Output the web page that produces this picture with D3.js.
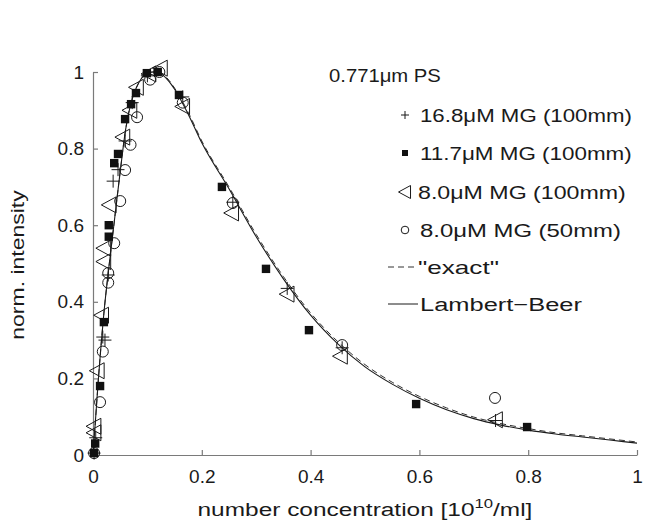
<!DOCTYPE html>
<html><head><meta charset="utf-8">
<script src="https://cdn.jsdelivr.net/npm/d3@7"></script>
<style>
body{margin:0;background:#fff;}
text{font-family:"Liberation Sans",Arial,sans-serif;fill:#1a1a1a;}
</style></head><body>
<svg id="c" width="662" height="528"></svg>
<script>
// ---- data ----
const xTicks = [0, 0.2, 0.4, 0.6, 0.8, 1];
const yTicks = [0, 0.2, 0.4, 0.6, 0.8, 1];
const xTickLabels = ["0", "0.2", "0.4", "0.6", "0.8", "1"];
const yTickLabels = ["0", "0.2", "0.4", "0.6", "0.8", "1"];

// 16.8uM MG (100mm)  "+"
const plusX = [0.002, 0.005, 0.018, 0.022, 0.028, 0.037, 0.046, 0.059, 0.072, 0.100, 0.165, 0.257, 0.357, 0.458, 0.740];
const plusY = [0.005, 0.045, 0.308, 0.300, 0.470, 0.715, 0.745, 0.820, 0.920, 0.990, 0.935, 0.660, 0.435, 0.280, 0.090];
// 11.7uM MG (100mm)  filled square
const sqX = [0.002, 0.004, 0.013, 0.020, 0.029, 0.029, 0.039, 0.046, 0.059, 0.070, 0.079, 0.099, 0.119, 0.158, 0.237, 0.318, 0.397, 0.594, 0.798];
const sqY = [0.005, 0.030, 0.180, 0.347, 0.570, 0.600, 0.762, 0.786, 0.877, 0.916, 0.945, 0.997, 1.000, 0.940, 0.700, 0.486, 0.326, 0.133, 0.073];
// 8.0uM MG (100mm)  left triangle
const triX = [0.002, 0.002, 0.008, 0.016, 0.020, 0.020, 0.030, 0.055, 0.068, 0.080, 0.103, 0.124, 0.165, 0.255, 0.357, 0.455, 0.740];
const triY = [0.075, 0.058, 0.220, 0.365, 0.505, 0.540, 0.653, 0.830, 0.900, 0.960, 0.995, 1.010, 0.910, 0.632, 0.420, 0.258, 0.092];
// 8.0uM MG (50mm)  open circle
const circX = [0.002, 0.013, 0.018, 0.028, 0.028, 0.039, 0.050, 0.059, 0.069, 0.081, 0.105, 0.122, 0.165, 0.257, 0.458, 0.739];
const circY = [0.005, 0.138, 0.270, 0.450, 0.475, 0.553, 0.663, 0.744, 0.810, 0.882, 0.980, 1.000, 0.920, 0.658, 0.287, 0.149];

// model curves
const curveX   = [0, 0.005, 0.01, 0.015, 0.02, 0.03, 0.04, 0.05, 0.06, 0.07, 0.08, 0.09, 0.10, 0.11, 0.12, 0.13, 0.14, 0.15, 0.175, 0.2, 0.25, 0.3, 0.35, 0.4, 0.45, 0.5, 0.55, 0.6, 0.65, 0.7, 0.75, 0.8, 0.85, 0.9, 0.95, 1.0];
const lambertY = [0, 0.10, 0.20, 0.29, 0.37, 0.50, 0.62, 0.74, 0.85, 0.92, 0.96, 0.985, 0.997, 1.0, 0.997, 0.99, 0.975, 0.955, 0.89, 0.815, 0.695, 0.57, 0.46, 0.365, 0.29, 0.23, 0.185, 0.148, 0.118, 0.095, 0.078, 0.065, 0.055, 0.047, 0.039, 0.031];
const exactY   = [0, 0.10, 0.20, 0.29, 0.37, 0.50, 0.62, 0.74, 0.85, 0.92, 0.96, 0.985, 0.997, 1.0, 0.998, 0.992, 0.978, 0.958, 0.895, 0.82, 0.70, 0.576, 0.466, 0.371, 0.296, 0.236, 0.19, 0.153, 0.123, 0.099, 0.082, 0.069, 0.058, 0.05, 0.042, 0.034];

const legendLabels = ["16.8\u03bcM MG (100mm)", "11.7\u03bcM MG (100mm)", "8.0\u03bcM MG (100mm)", "8.0\u03bcM MG (50mm)", "\"exact\"", "Lambert\u2212Beer"];
const legendTitle = "0.771\u03bcm PS";

// ---- drawing ----
const svg = d3.select("#c");
const x = d3.scaleLinear().domain([0, 1]).range([93, 637]);
const y = d3.scaleLinear().domain([0, 1]).range([455, 72]);
const ink = "#1a1a1a", axisCol = "#7a7a7a";
const FS = 19;

// stretch a text horizontally (in its own frame) to a target width
function fitWidth(sel, target, ax) {
  const w = sel.node().getBBox().width;
  const k = target / w;
  sel.attr("transform", `translate(${ax},0) scale(${k},1) translate(${-ax},0)`);
}

// axes
const gx = svg.append("g").attr("transform", `translate(0,${y(0)})`)
  .call(d3.axisBottom(x).tickValues(xTicks).tickFormat((d,i)=>xTickLabels[i]).tickSize(-5).tickSizeOuter(0).tickPadding(15));
const gy = svg.append("g").attr("transform", `translate(${x(0)},0)`)
  .call(d3.axisLeft(y).tickValues(yTicks).tickFormat((d,i)=>yTickLabels[i]).tickSize(-5).tickSizeOuter(0).tickPadding(9));
[gx, gy].forEach(g => {
  g.select(".domain").attr("stroke", axisCol).attr("stroke-width", 1.2);
  g.selectAll(".tick line").attr("stroke", axisCol).attr("stroke-width", 1.2);
  g.selectAll(".tick text").attr("font-size", FS).attr("font-family", "Liberation Sans, Arial, sans-serif").attr("fill", ink);
});

// axis titles
const xt = svg.append("text").attr("x", 365).attr("y", 516).attr("text-anchor", "middle").attr("font-size", FS);
xt.append("tspan").text("number concentration [10");
xt.append("tspan").attr("dy", -8).attr("font-size", 13).text("10");
xt.append("tspan").attr("dy", 8).text("/ml]");
fitWidth(xt, 335, 365);
const yg = svg.append("g").attr("transform", "translate(24,265) rotate(-90)");
const ytt = yg.append("text").attr("x", 0).attr("y", 0).attr("text-anchor", "middle").attr("font-size", FS).text("norm. intensity");
fitWidth(ytt, 150, 0);

// curves
const line = d3.line().x(d => x(d[0])).y(d => y(d[1])).curve(d3.curveMonotoneX);
svg.append("path").datum(curveX.map((c,i)=>[c, exactY[i]])).attr("d", line)
  .attr("fill", "none").attr("stroke", "#333").attr("stroke-width", 1).attr("stroke-dasharray", "6,4");
svg.append("path").datum(curveX.map((c,i)=>[c, lambertY[i]])).attr("d", line)
  .attr("fill", "none").attr("stroke", ink).attr("stroke-width", 1.1);

// markers
function plus(g, cx, cy, s) {
  g.append("path").attr("d", `M${cx-s},${cy}H${cx+s}M${cx},${cy-s}V${cy+s}`).attr("stroke", ink).attr("stroke-width", 1).attr("fill", "none");
}
function square(g, cx, cy, s) {
  g.append("rect").attr("x", cx-s).attr("y", cy-s).attr("width", 2*s).attr("height", 2*s).attr("fill", "#111");
}
function tri(g, cx, cy, s) {
  g.append("path").attr("d", `M${cx-s},${cy}L${cx+s*0.85},${cy-s}L${cx+s*0.85},${cy+s}Z`).attr("stroke", ink).attr("stroke-width", 1).attr("fill", "none");
}
function circ(g, cx, cy, r) {
  g.append("circle").attr("cx", cx).attr("cy", cy).attr("r", r).attr("stroke", ink).attr("stroke-width", 1).attr("fill", "none");
}
const gm = svg.append("g");
triX.forEach((v,i)=>tri(gm, x(v), y(triY[i]), 8));
circX.forEach((v,i)=>circ(gm, x(v), y(circY[i]), 5.5));
plusX.forEach((v,i)=>plus(gm, x(v), y(plusY[i]), 6.5));
sqX.forEach((v,i)=>square(gm, x(v), y(sqY[i]), 4.2));

// legend
const lg = svg.append("g");
const tt = lg.append("text").attr("x", 329).attr("y", 82).attr("font-size", FS).text(legendTitle);
fitWidth(tt, 112, 329);
const ly = [115, 153, 192, 230, 267, 304];
const lx = [420, 420, 418, 420, 418, 420];
const lw = [212, 212, 208, 201, 81, 163];
const mx = 405;
plus(lg, mx, ly[0], 4);
square(lg, mx, ly[1], 3);
tri(lg, mx, ly[2], 6.5);
circ(lg, mx, ly[3], 3.8);
lg.append("line").attr("x1", 388).attr("x2", 416).attr("y1", ly[4]).attr("y2", ly[4]).attr("stroke", "#333").attr("stroke-dasharray", "6,4");
lg.append("line").attr("x1", 388).attr("x2", 418).attr("y1", ly[5]).attr("y2", ly[5]).attr("stroke", ink);
legendLabels.forEach((t,i)=>{
  const el = lg.append("text").attr("x", lx[i]).attr("y", ly[i]).attr("dy", "0.36em").attr("font-size", FS).text(t);
  fitWidth(el, lw[i], lx[i]);
});
</script>
</body></html>
